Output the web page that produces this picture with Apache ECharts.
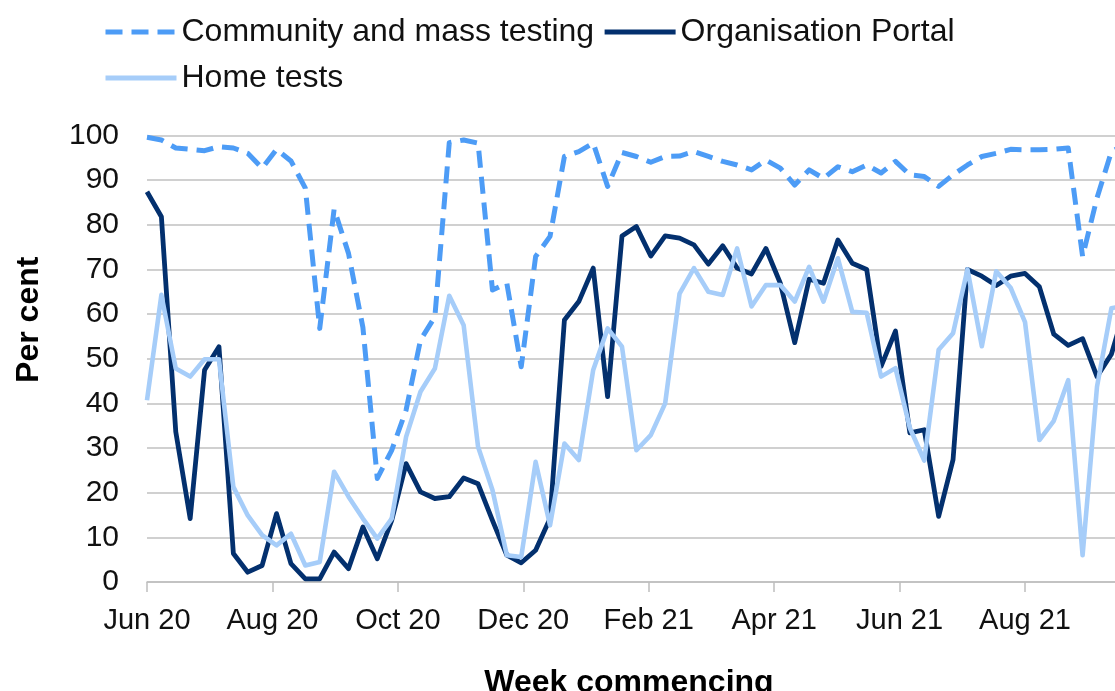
<!DOCTYPE html>
<html><head><meta charset="utf-8">
<script src="https://cdn.jsdelivr.net/npm/echarts@6/dist/echarts.min.js"></script>
<style>html,body{margin:0;padding:0;background:#fff;overflow:hidden}#c{width:1115px;height:691px}</style>
</head><body><div id="c"></div>
<script>
// Week commencing (Mondays)
const weeks = [
 '2020-06-01','2020-06-08','2020-06-15','2020-06-22','2020-06-29',
 '2020-07-06','2020-07-13','2020-07-20','2020-07-27',
 '2020-08-03','2020-08-10','2020-08-17','2020-08-24','2020-08-31',
 '2020-09-07','2020-09-14','2020-09-21','2020-09-28',
 '2020-10-05','2020-10-12','2020-10-19','2020-10-26',
 '2020-11-02','2020-11-09','2020-11-16','2020-11-23','2020-11-30',
 '2020-12-07','2020-12-14','2020-12-21','2020-12-28',
 '2021-01-04','2021-01-11','2021-01-18','2021-01-25',
 '2021-02-01','2021-02-08','2021-02-15','2021-02-22',
 '2021-03-01','2021-03-08','2021-03-15','2021-03-22','2021-03-29',
 '2021-04-05','2021-04-12','2021-04-19','2021-04-26',
 '2021-05-03','2021-05-10','2021-05-17','2021-05-24','2021-05-31',
 '2021-06-07','2021-06-14','2021-06-21','2021-06-28',
 '2021-07-05','2021-07-12','2021-07-19','2021-07-26',
 '2021-08-02','2021-08-09','2021-08-16','2021-08-23','2021-08-30',
 '2021-09-06','2021-09-13','2021-09-20'
];
const tickLabels = ['Jun 20','Aug 20','Oct 20','Dec 20','Feb 21','Apr 21','Jun 21','Aug 21'];
const seriesNames = ['Community and mass testing','Organisation Portal','Home tests'];

const community = [
 99.6,99,97.2,96.9,96.6,97.5,97.2,96,92.7,96.9,
 94.3,88.2,56.8,83.5,73.6,57,23.2,29.5,38.5,54.2,
 59.4,98.4,99,98.3,65.4,66.9,48.2,72.9,77.4,95.3,
 96.4,98.3,88.6,96.2,95.3,94,95.3,95.4,96.4,95.3,
 94.2,93.4,92.3,94.5,92.7,88.9,92.3,90.4,93,91.9,
 93.4,91.6,94.2,91.2,90.8,88.6,91.2,93.4,95.3,96,
 96.9,96.8,96.8,96.9,97.2,72.9,86,96.4,98
];
const orgPortal = [
 87.4,81.8,33.6,14.2,47.5,52.7,6.4,2.2,3.7,15.3,
 4.1,0.7,0.7,6.7,3,12.3,5.2,13.8,26.5,20.2,
 18.7,19.1,23.3,22,13.8,6,4.3,7.1,14.2,58.7,
 62.8,70.3,41.5,77.5,79.6,73,77.5,77,75.5,71.2,
 75.3,70.3,69,74.7,66.9,53.6,67.8,66.9,76.6,71.4,
 70,48.3,56.2,33.4,34.1,14.7,27.4,70,68.5,66.4,
 68.5,69.1,66.1,55.5,53,54.5,46,51,62
];
const homeTests = [
 40.7,64.3,47.8,46,49.9,49.9,21.3,14.9,10.5,8.2,
 10.8,3.7,4.5,24.7,19.1,14.2,9.7,14.2,32.5,42.6,
 47.8,64.1,57.5,30.3,20.6,6,5.6,26.9,12.7,31,
 27.3,47.5,56.8,52.7,29.5,32.9,40,64.6,70.3,65,
 64.3,74.7,61.7,66.5,66.5,62.8,70.6,62.8,72.5,60.5,
 60.3,46,47.9,34.5,27.2,52,55.7,70,52.8,69.6,
 65.9,58.2,31.8,36.1,45.2,6,43.7,61.3,62
];

const start = Date.UTC(2020, 5, 1);
function dayOf(s) { const p = s.split('-'); return Math.round((Date.UTC(+p[0], +p[1] - 1, +p[2]) - start) / 86400000); }
const xs = weeks.map(dayOf);
const pairs = arr => arr.map((v, i) => [xs[i], v]);

const font = '"Liberation Sans", Arial, sans-serif';
const chart = echarts.init(document.getElementById('c'), null, { renderer: 'canvas' });
chart.setOption({
  animation: false,
  backgroundColor: '#fff',
  textStyle: { fontFamily: font },
  legend: {
    left: 103, top: 13, width: 900, padding: 0, itemGap: 8,
    itemWidth: 71, itemHeight: 2,
    textStyle: { fontSize: 32, color: '#111', lineHeight: 38, fontFamily: font },
    itemStyle: { opacity: 0 },
    lineStyle: { width: 5 },
    data: seriesNames
  },
  grid: { left: 147, right: -19, top: 135.5, bottom: 109, containLabel: false, outerBoundsMode: 'none' },
  xAxis: {
    type: 'value', min: 0, max: 480, interval: 61,
    name: 'Week commencing', nameLocation: 'middle', nameGap: 85,
    nameTextStyle: { fontSize: 32, fontWeight: 'bold', color: '#000', fontFamily: font, padding: [0, 23, 0, 0] },
    axisLine: { show: true, lineStyle: { color: '#bfbfbf', width: 1.5 } },
    axisTick: { show: true, length: 10, lineStyle: { color: '#bfbfbf', width: 1.5 } },
    axisLabel: {
      fontSize: 29, color: '#111', margin: 24, fontFamily: font,
      formatter: function (v) { const k = Math.round(v / 61); return (Math.abs(v - k * 61) < 0.01 && tickLabels[k]) ? tickLabels[k] : ''; }
    },
    splitLine: { show: false }
  },
  yAxis: {
    type: 'value', min: 0, max: 100, interval: 10,
    name: 'Per cent', nameLocation: 'middle', nameGap: 102, nameRotate: 90,
    nameTextStyle: { fontSize: 32, fontWeight: 'bold', color: '#000', fontFamily: font, padding: [0, 0, 0, 78] },
    axisLine: { show: false }, axisTick: { show: false },
    axisLabel: { fontSize: 30, color: '#111', margin: 28, fontFamily: font },
    splitLine: { lineStyle: { color: '#c0c0c0', width: 1.5 } }
  },
  series: [
    { name: seriesNames[0], type: 'line', data: pairs(community), symbol: 'none',
      itemStyle: { color: '#4d9cf6' },
      lineStyle: { color: '#4d9cf6', width: 5, type: [17, 9], join: 'round' } },
    { name: seriesNames[1], type: 'line', data: pairs(orgPortal), symbol: 'none',
      itemStyle: { color: '#03306e' },
      lineStyle: { color: '#03306e', width: 4.8, join: 'round' } },
    { name: seriesNames[2], type: 'line', data: pairs(homeTests), symbol: 'none',
      itemStyle: { color: '#a6cdf9' },
      lineStyle: { color: '#a6cdf9', width: 4.6, join: 'round' } }
  ]
});
</script>
</body></html>
